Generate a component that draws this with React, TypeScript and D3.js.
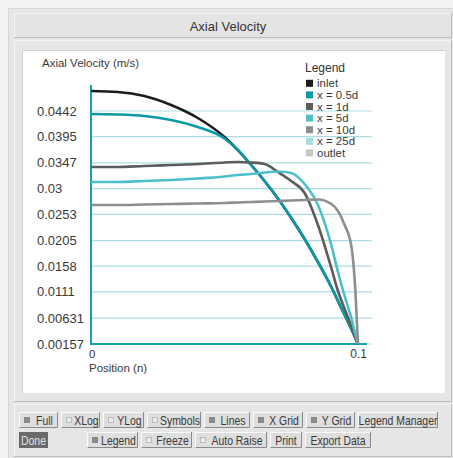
import React from "react";
import * as d3 from "d3";

const positions = [0, 0.01, 0.02, 0.03, 0.04, 0.05, 0.055, 0.06, 0.065, 0.07, 0.075, 0.08, 0.085, 0.09, 0.0925, 0.095, 0.0975, 0.099, 0.1];

const inlet = [0.04786, 0.04768, 0.04694, 0.0453, 0.04292, 0.03944, 0.03706, 0.03432, 0.03139, 0.02819, 0.02462, 0.02078, 0.01657, 0.012, 0.00944, 0.00688, 0.00431, 0.00267, 0.00157];
const x05d = [0.04365, 0.04356, 0.04328, 0.04255, 0.04127, 0.03917, 0.03706, 0.03432, 0.03139, 0.02819, 0.02462, 0.02078, 0.01657, 0.012, 0.00944, 0.00688, 0.00431, 0.00267, 0.00157];
const x1d = [0.03395, 0.03395, 0.03414, 0.03432, 0.0345, 0.03478, 0.03487, 0.03478, 0.0345, 0.03304, 0.03139, 0.0292, 0.02334, 0.01548, 0.01127, 0.00797, 0.00486, 0.00285, 0.00157];
const x5d = [0.03121, 0.03121, 0.03139, 0.03158, 0.03185, 0.03222, 0.03249, 0.03267, 0.03295, 0.03313, 0.03286, 0.03084, 0.027, 0.01968, 0.01474, 0.01035, 0.00633, 0.0034, 0.00157];
const x10d = [0.027, 0.027, 0.02709, 0.02718, 0.02727, 0.02737, 0.02746, 0.02755, 0.02764, 0.02773, 0.02782, 0.02792, 0.02801, 0.02718, 0.0259, 0.02334, 0.0195, 0.01145, 0.00157];

const yTicks = [0.00157, 0.00631, 0.0111, 0.0158, 0.0205, 0.0253, 0.03, 0.0347, 0.0395, 0.0442];
const yTickLabels = ["0.00157", "0.00631", "0.0111", "0.0158", "0.0205", "0.0253", "0.03", "0.0347", "0.0395", "0.0442"];
const xTicks = [0, 0.1];
const xTickLabels = ["0", "0.1"];

const legendNames = ["inlet", "x = 0.5d", "x = 1d", "x = 5d", "x = 10d", "x = 25d", "outlet"];
const legendColors = ["#1c1c1c", "#0a99a7", "#5c5c5c", "#4dbfca", "#8e8e8e", "#a9dce2", "#c6c6c6"];

const seriesList = [
  { name: "inlet", values: inlet, color: legendColors[0] },
  { name: "x = 0.5d", values: x05d, color: legendColors[1] },
  { name: "x = 1d", values: x1d, color: legendColors[2] },
  { name: "x = 5d", values: x5d, color: legendColors[3] },
  { name: "x = 10d", values: x10d, color: legendColors[4] },
];

const buttonsRow1 = [
  { label: "Full", ind: "on" },
  { label: "XLog", ind: "off" },
  { label: "YLog", ind: "off" },
  { label: "Symbols", ind: "off" },
  { label: "Lines", ind: "on" },
  { label: "X Grid", ind: "on" },
  { label: "Y Grid", ind: "on" },
  { label: "Legend Manager", ind: "none" },
];
const row1X = [19, 61, 103, 147, 204, 253, 306, 358, 441];
const buttonsRow2 = [
  { label: "Legend", ind: "on" },
  { label: "Freeze", ind: "off" },
  { label: "Auto Raise", ind: "off" },
  { label: "Print", ind: "none" },
  { label: "Export Data", ind: "none" },
];
const row2X = [87, 141, 195, 270, 305, 374];

const FONT = "'Liberation Sans', Arial, sans-serif";
const SX = 0.87;

function Button({ x, y, w, h, label, ind }: any) {
  const hasInd = ind !== "none";
  const cx = hasInd ? x + 12 + (w - 12) / 2 : x + w / 2;
  const cy = y + h / 2 + 4.5;
  return (
    <g>
      <rect x={x} y={y} width={w} height={h} fill="#dedede" />
      <path d={`M${x + 0.5},${y + h} V${y + 0.5} H${x + w}`} stroke="#fbfbfb" fill="none" />
      <path d={`M${x + 0.5},${y + h - 0.5} H${x + w - 0.5} V${y}`} stroke="#8a8a8a" fill="none" />
      {hasInd && (
        <rect x={x + 5.5} y={y + h / 2 - 2.5} width={5} height={5}
          fill={ind === "on" ? "#8c8c8c" : "#ececec"} stroke={ind === "on" ? "#7a7a7a" : "#b0b0b0"} strokeWidth={0.8} />
      )}
      <text transform={`translate(${cx},${cy}) scale(${SX},1)`} textAnchor="middle"
        fontFamily={FONT} fontSize={12} fill="#3a3a3a">{label}</text>
    </g>
  );
}

export default function App() {
  const x = d3.scaleLinear().domain([0, 0.1]).range([91, 358]);
  const y = d3.scaleLinear().domain([0.00157, 0.0442]).range([344, 111]);
  const yTop = 85;
  const line = d3.line<number>()
    .x((_, i) => x(positions[i]))
    .y((d) => y(d))
    .curve(d3.curveMonotoneX);

  return (
    <svg width={453} height={458} style={{ position: "absolute", left: 0, top: 0 }}>
      <rect x={0} y={0} width={453} height={458} fill="#f3f3f3" />
      <rect x={8} y={8} width={445} height={450} fill="#e6e6e6" />
      <line x1={8} y1={8.5} x2={453} y2={8.5} stroke="#d6d6d6" />
      <line x1={8.5} y1={8} x2={8.5} y2={458} stroke="#d6d6d6" />
      {/* title bar */}
      <rect x={14} y={13} width={438} height={25} fill="#e4e4e4" />
      <path d="M14.5,38 V13.5 H452" stroke="#f4f4f4" fill="none" />
      <path d="M14,37.5 H451.5 V13" stroke="#bdbdbd" fill="none" />
      <text x={228} y={31} textAnchor="middle" fontFamily={FONT} fontSize={13} fill="#333">Axial Velocity</text>
      {/* plot panel */}
      <path d="M14.5,402 V40.5 H452" stroke="#f4f4f4" fill="none" />
      <path d="M14,401.5 H451.5 V40" stroke="#bdbdbd" fill="none" />
      <rect x={22} y={50} width={423} height={343} fill="#ffffff" />
      <path d="M22.5,393 V50.5 H445" stroke="#d0d0d0" fill="none" />
      {/* button panel */}
      <path d="M14.5,457 V404.5 H452" stroke="#f4f4f4" fill="none" />
      <path d="M14,456.5 H451.5 V404" stroke="#bdbdbd" fill="none" />

      {/* grid */}
      {yTicks.map((t, i) => (
        <line key={"g" + i} x1={91} x2={372} y1={y(t)} y2={y(t)} stroke="#acdde2" strokeWidth={1.2} />
      ))}
      {/* axes */}
      <line x1={91} x2={91} y1={yTop} y2={345} stroke="#17a2ab" strokeWidth={2} />
      <line x1={90} x2={367} y1={344} y2={344} stroke="#17a2ab" strokeWidth={2} />
      {yTicks.map((t, i) => (
        <text key={"yl" + i} x={37} y={y(t) + 4.5} fontFamily={FONT} fontSize={13} fill="#3a3a3a">{yTickLabels[i]}</text>
      ))}
      <text x={x(xTicks[0]) - 2} y={357.5} fontFamily={FONT} fontSize={11.5} fill="#3a3a3a">{xTickLabels[0]}</text>
      <text x={x(xTicks[1]) + 9} y={358} textAnchor="end" fontFamily={FONT} fontSize={12} fill="#3a3a3a">{xTickLabels[1]}</text>
      <text x={89} y={372} fontFamily={FONT} fontSize={11.5} fill="#3a3a3a">Position (n)</text>
      <text x={42} y={67} fontFamily={FONT} fontSize={11.5} fill="#3a3a3a">Axial Velocity (m/s)</text>

      {/* series */}
      {seriesList.map((s) => (
        <path key={s.name} d={line(s.values) || ""} fill="none" stroke={s.color} strokeWidth={2.6} strokeLinejoin="round" />
      ))}

      {/* legend */}
      <text x={305} y={72} fontFamily={FONT} fontSize={12} fill="#333">Legend</text>
      {legendNames.map((n, i) => {
        const cy = 83.3 + i * 11.6;
        return (
          <g key={n}>
            <rect x={306} y={cy - 3.5} width={7} height={7} fill={legendColors[i]} />
            <text x={317} y={cy + 4} fontFamily={FONT} fontSize={11.5} fill="#3a3a3a">{n}</text>
          </g>
        );
      })}

      {/* buttons */}
      {buttonsRow1.map((b, i) => (
        <Button key={b.label} x={row1X[i]} y={412} w={row1X[i + 1] - row1X[i] - 3} h={16} label={b.label} ind={b.ind} />
      ))}
      <rect x={19} y={432} width={29} height={16} fill="#6a6a6a" />
      <text transform={`translate(33.5,444.5) scale(${SX},1)`} textAnchor="middle" fontFamily={FONT} fontSize={12} fill="#e0e0e0">Done</text>
      {buttonsRow2.map((b, i) => (
        <Button key={b.label} x={row2X[i]} y={432} w={row2X[i + 1] - row2X[i] - 3} h={16} label={b.label} ind={b.ind} />
      ))}
    </svg>
  );
}
